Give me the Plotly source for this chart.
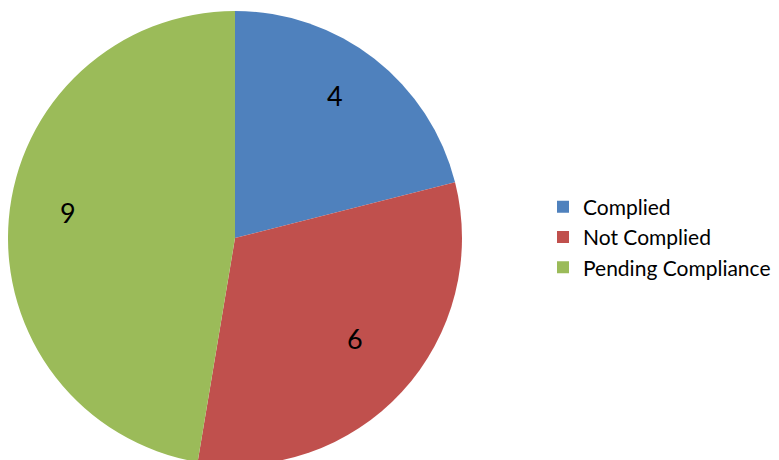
import plotly.graph_objects as go

labels = ["Complied", "Not Complied", "Pending Compliance"]
values = [4, 6, 9]
colors = ["#4F81BD", "#C0504D", "#9BBB59"]

FONT = "Lato, Open Sans, sans-serif"
dom = dict(x=[0, 454/779], y=[3/460, 457/460])
label_dom = dict(x=[7/779, 443/779], y=[1 - 436/460, 1])

# filled pie, no text
fig = go.Figure(go.Pie(
    labels=labels,
    values=values,
    sort=False,
    direction="clockwise",
    rotation=0,
    marker=dict(colors=colors, line=dict(width=0)),
    textinfo="none",
    domain=dom,
    hoverinfo="label+value",
))

# transparent ring overlay carrying the value labels further out
fig.add_trace(go.Pie(
    labels=labels,
    values=values,
    sort=False,
    direction="clockwise",
    rotation=0,
    hole=0.52,
    marker=dict(colors=["rgba(0,0,0,0)"] * 3, line=dict(width=0)),
    textinfo="value",
    textposition="inside",
    insidetextorientation="horizontal",
    textfont=dict(family=FONT, size=27, color="black"),
    domain=label_dom,
    showlegend=False,
    hoverinfo="skip",
))

fig.update_layout(
    width=779, height=460,
    margin=dict(l=0, r=0, t=0, b=0),
    paper_bgcolor="white",
    plot_bgcolor="white",
    showlegend=True,
    legend=dict(
        x=535/779, y=0.502, xanchor="left", yanchor="middle",
        font=dict(family=FONT, size=21, color="black"),
        itemwidth=30,
    ),
)

fig.write_html("out.html")
